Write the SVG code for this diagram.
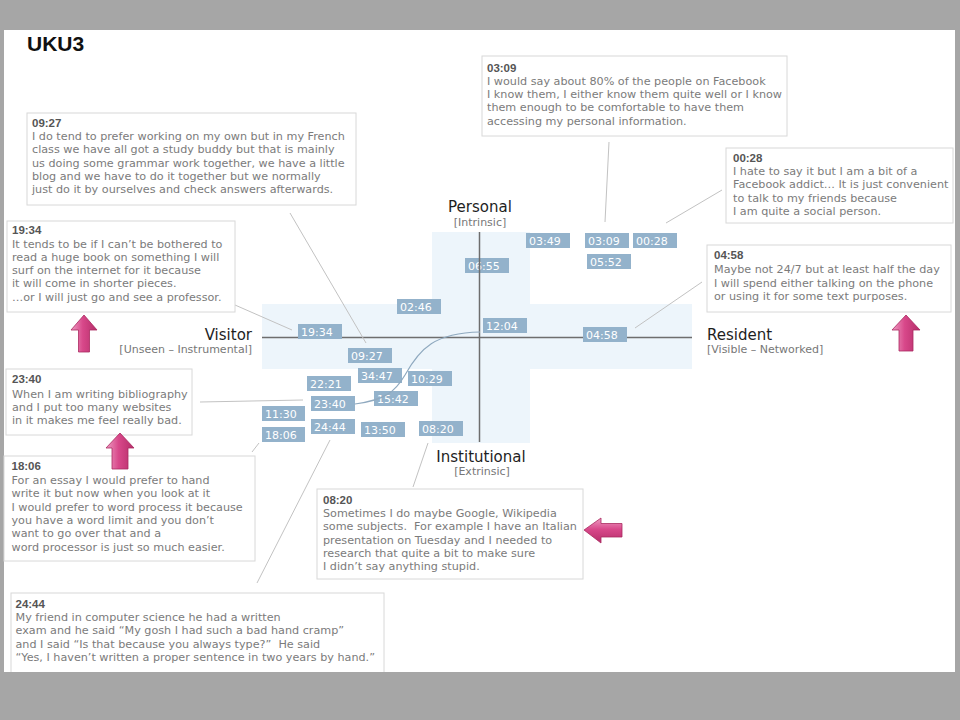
<svg xmlns="http://www.w3.org/2000/svg" width="960" height="720" viewBox="0 0 960 720">
<defs>
<style>
.box{fill:#fff;stroke:#d8d8d8;stroke-width:1}
.hd{font-family:"Liberation Sans",Arial,sans-serif;font-weight:bold;font-size:11.5px;fill:#555}
.bd{font-family:"DejaVu Sans",sans-serif;font-size:11.2px;fill:#7b7b7b;white-space:pre}
.tag rect{fill:#93b2cb}
.tag text{font-family:"DejaVu Sans",sans-serif;font-size:11px;fill:#fff}
.ax{font-family:"DejaVu Sans",sans-serif;font-size:15px;fill:#1e1e1e}
.axs{font-family:"DejaVu Sans",sans-serif;font-size:11px;fill:#777}
.conn line{stroke:#c2c2c2;stroke-width:1}
.arr{stroke:#a9295f;stroke-width:0.8}
</style>
<linearGradient id="gv" x1="0" y1="0" x2="1" y2="0">
<stop offset="0" stop-color="#ee9cc3"/><stop offset="0.45" stop-color="#d8488a"/><stop offset="1" stop-color="#b52d69"/>
</linearGradient>
<linearGradient id="gh" x1="0" y1="0" x2="0" y2="1">
<stop offset="0" stop-color="#ee9cc3"/><stop offset="0.45" stop-color="#d8488a"/><stop offset="1" stop-color="#b52d69"/>
</linearGradient>
</defs>
<rect x="0" y="0" width="960" height="720" fill="#a6a6a6"/>
<rect x="4" y="30" width="951" height="642" fill="#fff"/>
<text x="27" y="51" font-family="Liberation Sans,Arial,sans-serif" font-weight="bold" font-size="21" fill="#111">UKU3</text>

<g id="chart-bg" fill="#edf5fb">
<rect x="262" y="304" width="430" height="65"/>
<rect x="432" y="232" width="98" height="211"/>
</g>
<line x1="262" y1="337.5" x2="692" y2="337.5" stroke="#6e6e6e" stroke-width="1.5"/>

<g id="axis-labels">
<text class="ax" x="480" y="212" text-anchor="middle">Personal</text>
<text class="axs" x="480" y="226" text-anchor="middle">[Intrinsic]</text>
<text class="ax" x="252" y="340" text-anchor="end">Visitor</text>
<text class="axs" x="252" y="352.5" text-anchor="end">[Unseen – Instrumental]</text>
<text class="ax" x="707" y="340">Resident</text>
<text class="axs" x="707" y="352.5">[Visible – Networked]</text>
<text class="ax" x="481" y="461.5" text-anchor="middle">Institutional</text>
<text class="axs" x="482" y="475" text-anchor="middle">[Extrinsic]</text>
</g>

<g id="tags" class="tag">
<g id="t0349"><rect x="526" y="233" width="44" height="15"/><text x="529" y="244.5">03:49</text></g>
<g id="t0309"><rect x="585" y="233" width="44" height="15"/><text x="588" y="244.5">03:09</text></g>
<g id="t0028"><rect x="633" y="233" width="44" height="15"/><text x="636" y="244.5">00:28</text></g>
<g id="t0552"><rect x="587" y="254" width="44" height="15"/><text x="590" y="265.5">05:52</text></g>
<g id="t0655"><rect x="465" y="258" width="44" height="15"/><text x="468" y="269.5">06:55</text></g>
<g id="t0246"><rect x="397" y="299" width="44" height="15"/><text x="400" y="310.5">02:46</text></g>
<g id="t1204"><rect x="483" y="318" width="44" height="15"/><text x="486" y="329.5">12:04</text></g>
<g id="t1934"><rect x="298" y="324" width="44" height="15"/><text x="301" y="335.5">19:34</text></g>
<g id="t0458"><rect x="583" y="327" width="44" height="15"/><text x="586" y="338.5">04:58</text></g>
<g id="t0927"><rect x="348" y="348" width="44" height="15"/><text x="351" y="359.5">09:27</text></g>
<g id="t3447"><rect x="358" y="368" width="44" height="15"/><text x="361" y="379.5">34:47</text></g>
<g id="t1029"><rect x="408" y="371" width="44" height="15"/><text x="411" y="382.5">10:29</text></g>
<g id="t2221"><rect x="307" y="376" width="44" height="15"/><text x="310" y="387.5">22:21</text></g>
<g id="t1542"><rect x="374" y="391" width="44" height="15"/><text x="377" y="402.5">15:42</text></g>
<g id="t2340"><rect x="311" y="396" width="44" height="15"/><text x="314" y="407.5">23:40</text></g>
<g id="t1130"><rect x="262" y="406" width="43" height="15"/><text x="265" y="417.5">11:30</text></g>
<g id="t2444"><rect x="311" y="419" width="44" height="15"/><text x="314" y="430.5">24:44</text></g>
<g id="t1350"><rect x="361" y="422" width="44" height="15"/><text x="364" y="433.5">13:50</text></g>
<g id="t0820"><rect x="419" y="421" width="44" height="15"/><text x="422" y="432.5">08:20</text></g>
<g id="t1806"><rect x="262" y="427" width="43" height="15"/><text x="265" y="438.5">18:06</text></g>
</g>

<line x1="479.5" y1="232" x2="479.5" y2="442" stroke="#6e6e6e" stroke-width="1.5"/>
<path d="M355,404 C385,400 395,392 405,375 C420,348 435,333 480,332" fill="none" stroke="#8fa9bf" stroke-width="1.2"/>

<g id="connectors" class="conn">
<line x1="290" y1="213" x2="366" y2="343"/>
<line x1="609" y1="142" x2="605" y2="222"/>
<line x1="722" y1="190" x2="666" y2="223"/>
<line x1="702" y1="282" x2="635" y2="328"/>
<line x1="235" y1="305" x2="292" y2="330"/>
<line x1="200" y1="402" x2="303" y2="400"/>
<line x1="252" y1="452" x2="259" y2="443"/>
<line x1="330" y1="440" x2="257" y2="583"/>
<line x1="428" y1="443" x2="413" y2="487"/>
</g>

<g id="q0927">
<rect class="box" x="27" y="113" width="329" height="92"/>
<text class="hd" x="32" y="126.5">09:27</text>
<text class="bd"><tspan x="32" y="140">I do tend to prefer working on my own but in my French</tspan><tspan x="32" y="153.3">class we have all got a study buddy but that is mainly</tspan><tspan x="32" y="166.6">us doing some grammar work together, we have a little</tspan><tspan x="32" y="179.9">blog and we have to do it together but we normally</tspan><tspan x="32" y="193.2">just do it by ourselves and check answers afterwards.</tspan></text>
</g>

<g id="q0309">
<rect class="box" x="482" y="56" width="305" height="80"/>
<text class="hd" x="487" y="71.5">03:09</text>
<text class="bd"><tspan x="487" y="84.8">I would say about 80% of the people on Facebook</tspan><tspan x="487" y="98.1">I know them, I either know them quite well or I know</tspan><tspan x="487" y="111.4">them enough to be comfortable to have them</tspan><tspan x="487" y="124.7">accessing my personal information.</tspan></text>
</g>

<g id="q0028">
<rect class="box" x="726" y="148" width="227" height="75"/>
<text class="hd" x="733" y="161.5">00:28</text>
<text class="bd"><tspan x="733" y="175">I hate to say it but I am a bit of a</tspan><tspan x="733" y="188.3">Facebook addict… It is just convenient</tspan><tspan x="733" y="201.6">to talk to my friends because</tspan><tspan x="733" y="214.9">I am quite a social person.</tspan></text>
</g>

<g id="q0458">
<rect class="box" x="707" y="245" width="244" height="67"/>
<text class="hd" x="714" y="259">04:58</text>
<text class="bd"><tspan x="714" y="273.3">Maybe not 24/7 but at least half the day</tspan><tspan x="714" y="286.6">I will spend either talking on the phone</tspan><tspan x="714" y="299.9">or using it for some text purposes.</tspan></text>
</g>

<g id="q1934">
<rect class="box" x="7" y="221" width="228" height="91"/>
<text class="hd" x="12" y="233.5">19:34</text>
<text class="bd"><tspan x="12" y="247.5">It tends to be if I can’t be bothered to</tspan><tspan x="12" y="260.8">read a huge book on something I will</tspan><tspan x="12" y="274.1">surf on the internet for it because</tspan><tspan x="12" y="287.4">it will come in shorter pieces.</tspan><tspan x="12" y="300.7">…or I will just go and see a professor.</tspan></text>
</g>

<g id="q2340">
<rect class="box" x="6" y="369" width="186" height="66"/>
<text class="hd" x="12" y="383">23:40</text>
<text class="bd"><tspan x="12" y="397.5">When I am writing bibliography</tspan><tspan x="12" y="410.8">and I put too many websites</tspan><tspan x="12" y="424.1">in it makes me feel really bad.</tspan></text>
</g>

<g id="q1806">
<rect class="box" x="4" y="456" width="251" height="105"/>
<text class="hd" x="11.5" y="469.5">18:06</text>
<text class="bd"><tspan x="11.5" y="484">For an essay I would prefer to hand</tspan><tspan x="11.5" y="497.3">write it but now when you look at it</tspan><tspan x="11.5" y="510.6">I would prefer to word process it because</tspan><tspan x="11.5" y="523.9">you have a word limit and you don’t</tspan><tspan x="11.5" y="537.2">want to go over that and a</tspan><tspan x="11.5" y="550.5">word processor is just so much easier.</tspan></text>
</g>

<g id="q2444">
<rect class="box" x="11" y="593" width="373" height="80"/>
<text class="hd" x="15.5" y="607.5">24:44</text>
<text class="bd"><tspan x="15.5" y="621">My friend in computer science he had a written</tspan><tspan x="15.5" y="634.3">exam and he said “My gosh I had such a bad hand cramp”</tspan><tspan x="15.5" y="647.6">and I said “Is that because you always type?”  He said</tspan><tspan x="15.5" y="660.9">“Yes, I haven’t written a proper sentence in two years by hand.”</tspan></text>
</g>

<g id="q0820">
<rect class="box" x="317" y="489" width="266" height="90"/>
<text class="hd" x="323" y="503.5">08:20</text>
<text class="bd"><tspan x="323" y="517">Sometimes I do maybe Google, Wikipedia</tspan><tspan x="323" y="530.3">some subjects.  For example I have an Italian</tspan><tspan x="323" y="543.6">presentation on Tuesday and I needed to</tspan><tspan x="323" y="556.9">research that quite a bit to make sure</tspan><tspan x="323" y="570.2">I didn’t say anything stupid.</tspan></text>
</g>

<g id="arrows">
<path class="arr" fill="url(#gv)" d="M84,315 L97,330 L89.5,330 L89.5,352 L78.5,352 L78.5,330 L71,330 Z"/>
<path class="arr" fill="url(#gv)" d="M120,433 L134,448 L128,448 L128,469 L112,469 L112,448 L106,448 Z"/>
<path class="arr" fill="url(#gv)" d="M906,315 L920,330 L913,330 L913,351 L899,351 L899,330 L892,330 Z"/>
<path class="arr" fill="url(#gh)" d="M584,530 L601,518 L601,523.5 L622,523.5 L622,537 L601,537 L601,543 Z"/>
</g>

<rect x="0" y="672" width="960" height="48" fill="#a6a6a6"/>
</svg>
